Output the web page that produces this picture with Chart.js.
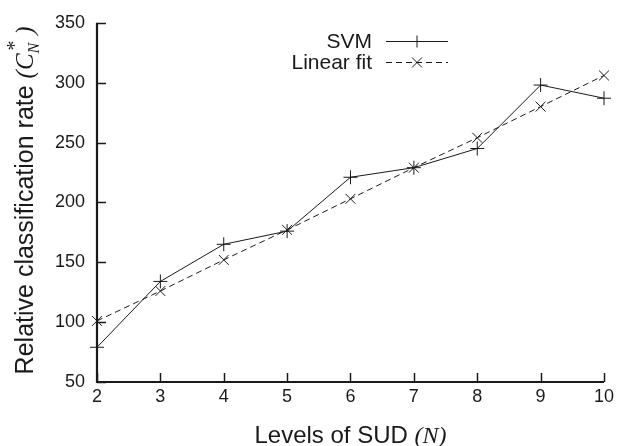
<!DOCTYPE html>
<html>
<head>
<meta charset="utf-8">
<script src="https://cdn.jsdelivr.net/npm/chart.js@4/dist/chart.umd.min.js"></script>
<style>
html,body{margin:0;padding:0;background:#fff;}
#wrap{width:618px;height:446px;}
</style>
</head>
<body>
<div id="wrap"><canvas id="c" width="618" height="446"></canvas></div>
<script>
const levels = ['2','3','4','5','6','7','8','9','10'];
const svmValues = [79, 134, 165, 176, 221, 229, 245, 298, 287];
const linearFitValues = [101, 126, 152, 177, 203, 229, 254, 280, 306];
const yTicks = [50, 100, 150, 200, 250, 300, 350];
const seriesNames = ['SVM', 'Linear fit'];
const yTitle = 'Relative classification rate ';
const xTitle = 'Levels of SUD ';

const FONT = '"Liberation Sans", Arial, Helvetica, sans-serif';
const SERIF = '"Liberation Serif", "DejaVu Serif", serif';
const INK = '#1a1a1a';

const decorPlugin = {
  id: 'decor',
  afterDraw(chart) {
    const ctx = chart.ctx;
    const ca = chart.chartArea;
    const xs = chart.scales.x, ys = chart.scales.y;
    ctx.save();
    // inward ticks
    ctx.strokeStyle = INK;
    ctx.lineWidth = 1.5;
    yTicks.forEach(v => {
      const py = Math.round(ys.getPixelForValue(v)) + 0.5;
      ctx.beginPath(); ctx.moveTo(ca.left, py); ctx.lineTo(ca.left + 9, py); ctx.stroke();
    });
    levels.forEach((l, i) => {
      const px = Math.round(xs.getPixelForValue(i)) + 0.5;
      ctx.beginPath(); ctx.moveTo(px, ca.bottom); ctx.lineTo(px, ca.bottom - 9); ctx.stroke();
    });
    // axes lines
    ctx.lineWidth = 2.2;
    ctx.beginPath();
    ctx.moveTo(ca.left, ca.top);
    ctx.lineTo(ca.left, ca.bottom);
    ctx.lineTo(ca.right, ca.bottom);
    ctx.stroke();

    // x title
    ctx.fillStyle = INK;
    ctx.textBaseline = 'alphabetic';
    ctx.font = '24px ' + FONT;
    const w1 = ctx.measureText(xTitle).width;
    ctx.font = 'italic 24px ' + SERIF;
    const w2 = ctx.measureText('(N)').width;
    let sx = (ca.left + ca.right) / 2 - (w1 + w2) / 2;
    ctx.font = '24px ' + FONT;
    ctx.textAlign = 'left';
    ctx.fillText(xTitle, sx, 443);
    ctx.font = 'italic 24px ' + SERIF;
    ctx.fillText('(N)', sx + w1, 443);

    // y title rotated
    ctx.save();
    ctx.translate(33, (ca.top + ca.bottom) / 2 - 2);
    ctx.rotate(-Math.PI / 2);
    ctx.font = '25px ' + FONT;
    const a = ctx.measureText(yTitle).width;
    ctx.font = 'italic 25px ' + SERIF;
    const p1 = ctx.measureText('(').width;
    const cw = ctx.measureText('C').width;
    ctx.font = 'italic 16px ' + SERIF;
    const nw = ctx.measureText('N').width;
    ctx.font = 'italic 25px ' + SERIF;
    const p2 = ctx.measureText(')').width;
    const total = a + p1 + cw + nw + 8 + p2;
    let tx = -total / 2;
    ctx.textAlign = 'left';
    ctx.font = '25px ' + FONT;
    ctx.fillText(yTitle, tx, 0); tx += a;
    ctx.font = 'italic 25px ' + SERIF;
    ctx.fillText('(', tx, 0); tx += p1;
    ctx.fillText('C', tx, 0); tx += cw;
    ctx.font = 'italic 16px ' + SERIF;
    ctx.fillText('N', tx, 6);
    ctx.font = '20px ' + SERIF;
    ctx.fillText('*', tx + 3, -12);
    tx += nw + 8;
    ctx.font = 'italic 25px ' + SERIF;
    ctx.fillText(')', tx, 0);
    ctx.restore();

    // legend
    const legendRows = [
      {name: seriesNames[0], y: 41, dash: [], marker: 'plus'},
      {name: seriesNames[1], y: 62, dash: [6, 4], marker: 'x'}
    ];
    ctx.font = '21px ' + FONT;
    ctx.textAlign = 'right';
    ctx.textBaseline = 'middle';
    legendRows.forEach(r => {
      ctx.fillStyle = INK;
      ctx.fillText(r.name, 372, r.y + 1);
      ctx.strokeStyle = INK;
      ctx.lineWidth = 1;
      ctx.setLineDash(r.dash);
      ctx.beginPath(); ctx.moveTo(386, r.y + 0.5); ctx.lineTo(448, r.y + 0.5); ctx.stroke();
      ctx.setLineDash([]);
      const mx = 417, my = r.y + 0.5, s = 6;
      ctx.beginPath();
      if (r.marker === 'plus') {
        ctx.moveTo(mx - s, my); ctx.lineTo(mx + s, my);
        ctx.moveTo(mx, my - s); ctx.lineTo(mx, my + s);
      } else {
        ctx.moveTo(mx - 5, my - 5); ctx.lineTo(mx + 5, my + 5);
        ctx.moveTo(mx - 5, my + 5); ctx.lineTo(mx + 5, my - 5);
      }
      ctx.stroke();
    });
    ctx.restore();
  }
};

new Chart(document.getElementById('c'), {
  type: 'line',
  data: {
    labels: levels,
    datasets: [
      {
        label: seriesNames[0],
        data: svmValues,
        borderColor: INK,
        borderWidth: 1,
        pointStyle: 'cross',
        pointRadius: 7,
        pointBorderColor: INK,
        pointBorderWidth: 1,
        tension: 0
      },
      {
        label: seriesNames[1],
        data: linearFitValues,
        borderColor: INK,
        borderWidth: 1,
        borderDash: [6, 4],
        pointStyle: 'crossRot',
        pointRadius: 7,
        pointBorderColor: INK,
        pointBorderWidth: 1,
        tension: 0
      }
    ]
  },
  options: {
    responsive: false,
    animation: false,
    devicePixelRatio: 1,
    layout: {padding: {top: 20, right: 12, left: 0, bottom: 0}},
    plugins: {legend: {display: false}, tooltip: {enabled: false}},
    scales: {
      x: {
        type: 'category',
        offset: false,
        grid: {display: false, drawTicks: false},
        border: {display: false},
        ticks: {color: INK, font: {family: FONT, size: 18}, padding: 4, maxRotation: 0, autoSkip: false},
        afterFit(s) { s.height = 64; }
      },
      y: {
        min: 50, max: 350,
        afterBuildTicks(s) { s.ticks = yTicks.map(v => ({value: v})); },
        grid: {display: false, drawTicks: false},
        border: {display: false},
        ticks: {color: INK, font: {family: FONT, size: 18}, padding: 12},
        afterFit(s) { s.width = 97; }
      }
    }
  },
  plugins: [decorPlugin]
});
</script>
</body>
</html>
